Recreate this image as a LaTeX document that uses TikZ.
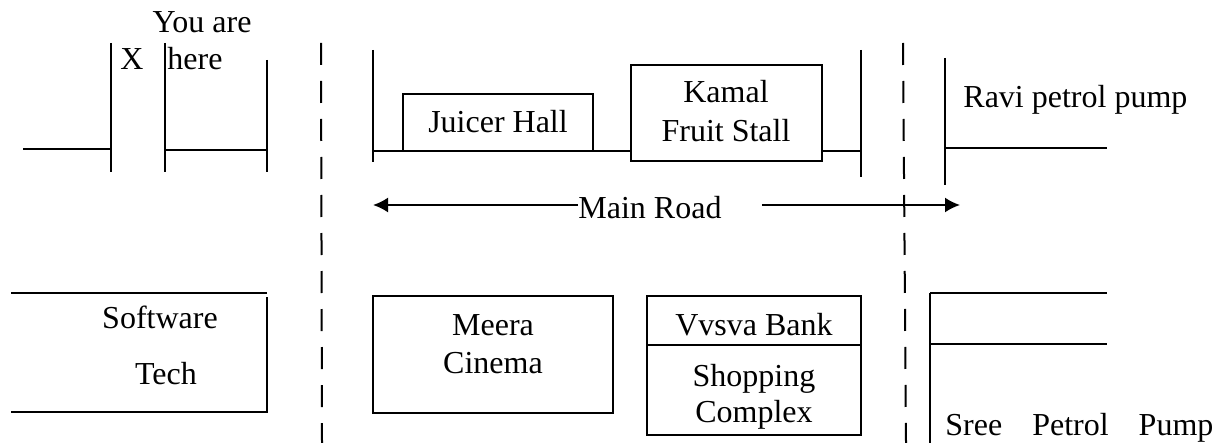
\documentclass[tikz,border=0pt]{standalone}
\usepackage{fontspec}
\setmainfont{Liberation Serif}
\usetikzlibrary{calc}
\usetikzlibrary{shapes,arrows.meta}

\begin{document}
\begin{tikzpicture}[x=0.5pt,y=-0.5pt,
    wall/.style={line width=1pt},
    lane/.style={line width=1pt,dash pattern=on 11pt off 8pt},
    lbl/.style={font=\fontsize{16}{19.5}\selectfont,inner sep=0pt},
    roadarrow/.style={line width=1pt,-{Latex[length=7.5pt,width=7.5pt]}}]
    \useasboundingbox (0,0) rectangle (1218,443);

    \coordinate (A0) at (23,149);
    \coordinate (A1) at (111,149);
    \coordinate (A2) at (111,43);
    \coordinate (A3) at (111,172);
    \coordinate (A4) at (165,43);
    \coordinate (A5) at (165,172);
    \coordinate (A6) at (165,150);
    \coordinate (A7) at (267,150);
    \coordinate (A8) at (267,60);
    \coordinate (A9) at (267,172);

    \coordinate (B0) at (373,50);
    \coordinate (B1) at (373,162);
    \coordinate (B2) at (373,151);
    \coordinate (B3) at (861,151);
    \coordinate (B4) at (861,50);
    \coordinate (B5) at (861,177);
    \coordinate (B6) at (403,94);
    \coordinate (B7) at (593,151);
    \coordinate (B8) at (631,65);
    \coordinate (B9) at (822,161);

    \coordinate (C0) at (945,58);
    \coordinate (C1) at (945,185);
    \coordinate (C2) at (945,148);
    \coordinate (C3) at (1107,148);

    \coordinate (D0) at (321,43);
    \coordinate (D1) at (322,443);
    \coordinate (D2) at (903,43);
    \coordinate (D3) at (906,443);

    \coordinate (E0) at (11,293);
    \coordinate (E1) at (267,293);
    \coordinate (E2) at (267,297);
    \coordinate (E3) at (267,412);
    \coordinate (E4) at (11,412);
    \coordinate (E5) at (373,296);
    \coordinate (E6) at (613,413);
    \coordinate (E7) at (647,296);
    \coordinate (E8) at (861,435);
    \coordinate (E9) at (647,345);
    \coordinate (E10) at (861,345);

    \coordinate (F0) at (930,293);
    \coordinate (F1) at (1107,293);
    \coordinate (F2) at (930,344);
    \coordinate (F3) at (1107,344);
    \coordinate (F4) at (930,450);

    \coordinate (L0) at (373,205);
    \coordinate (L1) at (960,205);

    \draw [wall] (A0) -- (A1);
    \draw [wall] (A2) -- (A3);
    \draw [wall] (A4) -- (A5);
    \draw [wall] (A6) -- (A7);
    \draw [wall] (A8) -- (A9);

    \draw [wall] (B0) -- (B1);
    \draw [wall] (B2) -- (B3);
    \draw [wall] (B4) -- (B5);
    \draw [wall] (B6) rectangle (B7);
    \draw [wall,fill=white] (B8) rectangle (B9);

    \draw [wall] (C0) -- (C1);
    \draw [wall] (C2) -- (C3);

    \draw [lane] (D0) -- (D1);
    \draw [lane] (D2) -- (D3);

    \draw [wall] (E0) -- (E1);
    \draw [wall] (E2) -- (E3) -- (E4);
    \draw [wall] (E5) rectangle (E6);
    \draw [wall] (E7) rectangle (E8);
    \draw [wall] (E9) -- (E10);

    \draw [wall] (F0) -- (F1);
    \draw [wall] (F2) -- (F3);
    \draw [wall] (F0) -- (F4);

    \node [lbl,anchor=base] (youare) at (202,33) {You are};
    \node [lbl,anchor=base] (xmark) at (132,70) {X};
    \node [lbl,anchor=base west] (here) at (167,70) {here};
    \node [lbl,anchor=base] (juicer) at (498,133) {Juicer Hall};
    \node [lbl,anchor=base] (kamal) at (726,103) {Kamal};
    \node [lbl,anchor=base] (fruit) at (726,142) {Fruit Stall};
    \node [lbl,anchor=base west] (ravi) at (963,108) {Ravi petrol pump};
    \node [lbl,anchor=base west] (road) at (578,219) {Main Road};
    \node [lbl,anchor=base] (soft) at (160,328) {Software};
    \node [lbl,anchor=base] (tech) at (166,384) {Tech};
    \node [lbl,anchor=base] (meera) at (493,335) {Meera};
    \node [lbl,anchor=base] (cinema) at (493,373) {Cinema};
    \node [lbl,anchor=base] (bank) at (754,335) {Vvsva Bank};
    \node [lbl,anchor=base] (shop) at (754,386) {Shopping};
    \node [lbl,anchor=base] (complex) at (754,422) {Complex};
    \node [lbl,anchor=base west] (sree) at (945,435)
        {\makebox[134pt][s]{Sree\hfill Petrol\hfill Pump}};

    \draw [roadarrow] (road.west |- L0) -- (L0);
    \draw [roadarrow] ($(road.east |- L1)+(40,0)$) -- (L1);
\end{tikzpicture}
\end{document}
